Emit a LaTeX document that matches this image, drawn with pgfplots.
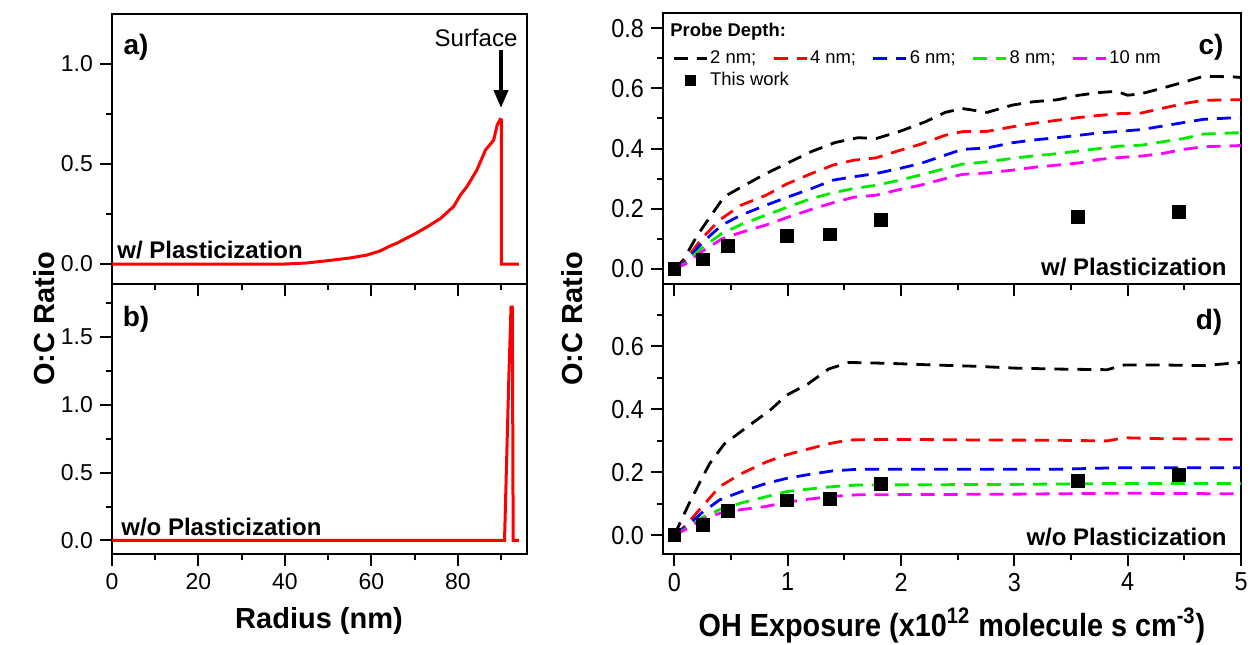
\documentclass[border=0pt]{standalone}
\usepackage{fontspec}
\setmainfont{Liberation Sans}
\newfontfamily\semifont[FakeStretch=0.9]{Liberation Sans}
\usepackage{pgfplots}
\pgfplotsset{compat=1.18}
\usetikzlibrary{arrows.meta}
\definecolor{cgreen}{RGB}{0,235,0}
\definecolor{cmag}{RGB}{255,0,255}

\pgfplotsset{
  panel/.style={
    scale only axis,
    axis line style={line width=1pt},
    tick style={line width=1pt, black},
    tick align=outside,
    major tick length=6pt,
    minor tick length=3pt,
    xtick pos=bottom, ytick pos=left,
    /pgf/number format/assume math mode=true,
    clip=false,
  },
  leftpanel/.style={
    panel, width=207.5pt, height=135pt,
    xmin=0, xmax=96,
    xtick={0,20,...,80}, minor xtick={10,30,50,70,90},
    tick label style={font=\fontsize{11.5}{12}\selectfont},
    yticklabel style={/pgf/number format/.cd, fixed, fixed zerofill, precision=1},
  },
  rightpanel/.style={
    panel, width=289pt,
    xmin=-0.1, xmax=5,
    xtick={0,1,...,5}, minor xtick={0.5,1.5,2.5,3.5,4.5},
    tick label style={font=\semifont\fontsize{13}{13}\selectfont},
    yticklabel style={/pgf/number format/.cd, fixed, fixed zerofill, precision=1},
    legend image code/.code={\draw[#1] (0pt,0pt) -- (16.5pt,0pt);},
  },
  dsh/.style={line width=1.4pt, dash pattern=on 7pt off 4.5pt},
  sq/.style={only marks, mark=square*, mark size=3.2pt, black,
    legend image code/.code={\draw[#1, mark size=2.5pt] plot coordinates {(8.25pt,0pt)};}},
}

\begin{document}
\begin{tikzpicture}

% a) with plasticization
\begin{axis}[leftpanel, at={(56pt,-142pt)}, anchor=south west,
  ymin=-0.1, ymax=1.25, ytick={0,0.5,1}, minor ytick={0.25,0.75},
  xticklabels={}]
\addplot[red, line width=1.5pt] coordinates {
(0,0) (40,0) (45,0.005) (50,0.017) (55,0.03) (59,0.045) (62,0.065) (64,0.087)
(66,0.105) (68,0.128) (70,0.15) (73,0.187) (76,0.228) (79,0.287) (80.6,0.345)
(82.1,0.387) (84.4,0.47) (86.4,0.57) (88.3,0.62) (89.1,0.695) (89.8,0.723)
(90.1,0.72) (90.1,0) (94.1,0)};
\end{axis}

% b) without plasticization
\begin{axis}[leftpanel, at={(56pt,-277pt)}, anchor=south west,
  ymin=-0.1, ymax=1.89, ytick={0,0.5,1,1.5}, minor ytick={0.25,0.75,1.25,1.75}]
\addplot[red, line width=1.5pt] coordinates {
(0,0) (90.8,0) (91.3,0.6) (91.8,1.2) (92.3,1.72) (92.6,1.72) (92.7,0.9) (92.8,0) (94.1,0)};
\end{axis}

% c) with plasticization
\begin{axis}[rightpanel, at={(331.5pt,-142pt)}, anchor=south west, height=135.5pt,
  ymin=-0.05, ymax=0.85, ytick={0,0.2,...,0.8}, minor ytick={0.1,0.3,0.5,0.7},
  xticklabels={},
  legend columns=5, legend cell align=left,
  legend style={at={(axis description cs:0.0156,0.871)}, anchor=north west,
    draw=none, fill=none, inner sep=0pt, row sep=1pt,
    font=\fontsize{9.2}{10}\selectfont, nodes={inner sep=1pt},
    /tikz/every even column/.append style={column sep=7pt}}]
\addplot[black, dsh] coordinates {
(0,0) (0.08,0.03) (0.2,0.11) (0.31,0.17) (0.44,0.24) (0.63,0.28) (0.81,0.317)
(0.99,0.35) (1.21,0.39) (1.42,0.42) (1.62,0.436) (1.78,0.433) (1.99,0.457)
(2.21,0.488) (2.39,0.52) (2.54,0.533) (2.76,0.52) (2.98,0.544) (3.16,0.555)
(3.38,0.562) (3.57,0.577) (3.75,0.586) (3.90,0.59) (4.0,0.577) (4.12,0.582)
(4.3,0.6) (4.49,0.62) (4.67,0.64) (4.93,0.638) (5,0.636)};
\addlegendentry{2 nm;}
\addplot[red, dsh] coordinates {
(0,0) (0.1,0.03) (0.24,0.10) (0.4,0.163) (0.59,0.212) (0.81,0.245) (0.99,0.282)
(1.21,0.317) (1.40,0.345) (1.58,0.361) (1.78,0.369) (1.99,0.394) (2.17,0.414)
(2.39,0.444) (2.54,0.456) (2.76,0.457) (2.98,0.472) (3.16,0.483) (3.38,0.494)
(3.57,0.503) (3.75,0.51) (3.93,0.516) (4.12,0.518) (4.3,0.533) (4.49,0.549)
(4.67,0.56) (4.93,0.562) (5,0.562)};
\addlegendentry{4 nm;}
\addplot[blue, dsh] coordinates {
(0,0) (0.1,0.025) (0.24,0.085) (0.42,0.146) (0.59,0.179) (0.81,0.212) (1.01,0.24)
(1.21,0.267) (1.40,0.295) (1.58,0.306) (1.78,0.317) (1.99,0.334) (2.17,0.35)
(2.39,0.378) (2.54,0.397) (2.76,0.402) (2.98,0.419) (3.16,0.428) (3.38,0.436)
(3.57,0.444) (3.75,0.452) (3.93,0.457) (4.12,0.463) (4.3,0.474) (4.49,0.486)
(4.67,0.497) (4.93,0.502) (5,0.502)};
\addlegendentry{6 nm;}
\addplot[cgreen, dsh] coordinates {
(0,0) (0.1,0.02) (0.24,0.069) (0.42,0.118) (0.61,0.151) (0.81,0.179) (1.01,0.207)
(1.21,0.234) (1.40,0.253) (1.58,0.267) (1.78,0.278) (1.99,0.295) (2.17,0.312)
(2.39,0.334) (2.54,0.348) (2.76,0.356) (2.98,0.367) (3.16,0.375) (3.38,0.383)
(3.57,0.392) (3.75,0.4) (3.93,0.408) (4.12,0.411) (4.3,0.422) (4.49,0.433)
(4.67,0.448) (4.93,0.452) (5,0.452)};
\addlegendentry{8 nm;}
\addplot[cmag, dsh] coordinates {
(0,0) (0.1,0.017) (0.24,0.057) (0.42,0.10) (0.61,0.124) (0.81,0.146) (1.01,0.173)
(1.21,0.198) (1.40,0.22) (1.58,0.238) (1.78,0.245) (1.99,0.264) (2.17,0.278)
(2.39,0.30) (2.54,0.314) (2.76,0.319) (2.98,0.328) (3.16,0.337) (3.38,0.345)
(3.57,0.352) (3.75,0.364) (3.93,0.37) (4.12,0.375) (4.3,0.383) (4.49,0.397)
(4.67,0.406) (4.93,0.409) (5,0.41)};
\addlegendentry{10 nm}
\addplot[sq] coordinates {
(0,0) (0.25,0.032) (0.47,0.076) (0.99,0.11) (1.37,0.115) (1.82,0.162) (3.56,0.173) (4.45,0.19)};
\addlegendentry{\makebox[0pt][l]{This work}}
\end{axis}

% d) without plasticization
\begin{axis}[rightpanel, at={(331.5pt,-277pt)}, anchor=south west, height=135pt,
  ymin=-0.06, ymax=0.797, ytick={0,0.2,0.4,0.6}, minor ytick={0.1,0.3,0.5,0.7}]
\addplot[black, dsh] coordinates {
(0,0) (0.13,0.10) (0.22,0.164) (0.31,0.226) (0.44,0.289) (0.63,0.34) (0.85,0.398)
(0.99,0.444) (1.18,0.48) (1.36,0.527) (1.54,0.548) (1.91,0.545) (2.28,0.54)
(2.65,0.536) (3.01,0.53) (3.38,0.527) (3.82,0.525) (3.97,0.54) (4.3,0.54)
(4.67,0.538) (5,0.548)};
\addplot[red, dsh] coordinates {
(0,0) (0.1,0.03) (0.22,0.08) (0.40,0.154) (0.59,0.195) (0.81,0.232) (0.99,0.255)
(1.18,0.273) (1.36,0.29) (1.54,0.302) (1.91,0.304) (2.65,0.302) (3.38,0.301)
(3.82,0.299) (3.97,0.309) (4.3,0.306) (5,0.304)};
\addplot[blue, dsh] coordinates {
(0,0) (0.1,0.025) (0.24,0.07) (0.40,0.112) (0.59,0.138) (0.81,0.164) (0.99,0.18)
(1.18,0.192) (1.40,0.204) (1.62,0.209) (2.28,0.209) (3.38,0.209) (3.93,0.214) (5,0.214)};
\addplot[cgreen, dsh] coordinates {
(0,0) (0.1,0.02) (0.24,0.055) (0.40,0.081) (0.59,0.102) (0.81,0.122) (0.99,0.138)
(1.18,0.146) (1.40,0.154) (1.62,0.159) (3.01,0.161) (3.93,0.164) (5,0.164)};
\addplot[cmag, dsh] coordinates {
(0,0) (0.1,0.018) (0.24,0.05) (0.40,0.069) (0.59,0.081) (0.81,0.091) (0.99,0.104)
(1.18,0.114) (1.40,0.123) (1.62,0.128) (3.01,0.13) (3.93,0.133) (5,0.131)};
\addplot[sq] coordinates {
(0,0) (0.25,0.032) (0.47,0.076) (0.99,0.11) (1.37,0.115) (1.82,0.162) (3.56,0.173) (4.45,0.19)};
\end{axis}

% labels and annotations
\node[rotate=90, font=\bfseries\fontsize{14.5}{15}\selectfont] at (22pt,-159.5pt) {O:C Ratio};
\node[rotate=90, font=\bfseries\fontsize{14.5}{15}\selectfont] at (286pt,-159.5pt) {O:C Ratio};
\node[anchor=base, inner sep=0pt, font=\bfseries\fontsize{14.5}{15}\selectfont] at (159.5pt,-314pt) {Radius (nm)};
\node[anchor=base, inner sep=0pt, font=\semifont\bfseries\fontsize{16}{16}\selectfont] at (476pt,-318pt)
  {OH Exposure (x10\textsuperscript{12} molecule s cm\textsuperscript{-3})};

\node[font=\bfseries\fontsize{14}{14}\selectfont] at (68pt,-23.5pt) {a)};
\node[font=\bfseries\fontsize{14}{14}\selectfont] at (68pt,-159.5pt) {b)};
\node[font=\bfseries\fontsize{14}{14}\selectfont] at (605.5pt,-23.5pt) {c)};
\node[font=\bfseries\fontsize{14}{14}\selectfont] at (604.5pt,-161pt) {d)};

\node[font=\fontsize{12}{12}\selectfont] at (238pt,-19pt) {Surface};
\draw[line width=2pt, -{Triangle[width=7pt,length=9pt]}] (250.5pt,-25pt) -- (250.5pt,-54pt);

\node[anchor=base west, inner sep=0pt, font=\bfseries\fontsize{12}{12}\selectfont] at (58.5pt,-129pt) {w/ Plasticization};
\node[anchor=base west, inner sep=0pt, font=\bfseries\fontsize{12}{12}\selectfont] at (60.5pt,-267.5pt) {w/o Plasticization};
\node[anchor=base east, inner sep=0pt, font=\bfseries\fontsize{12}{12}\selectfont] at (613.5pt,-137.5pt) {w/ Plasticization};
\node[anchor=base east, inner sep=0pt, font=\bfseries\fontsize{12}{12}\selectfont] at (613.5pt,-272.5pt) {w/o Plasticization};

\node[anchor=west, inner sep=0pt, font=\bfseries\fontsize{9.2}{10}\selectfont] at (335pt,-16pt) {Probe Depth:};

\pgfresetboundingbox
\path[use as bounding box] (0pt,0pt) rectangle (626.5pt,-322pt);
\end{tikzpicture}
\end{document}
